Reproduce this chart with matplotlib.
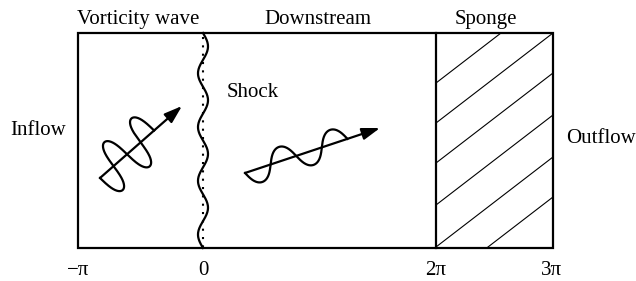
import numpy as np
import matplotlib.pyplot as plt
from matplotlib.patches import Rectangle

plt.rcParams['font.family'] = ['Liberation Serif', 'DejaVu Serif']

# the sketch is laid out in pixel-like units, y pointing down
box_x = [78, 553]
box_y = [33, 248]
sponge_x = 436
shock_x = 203

tick_pos = [78, 203, 436, 552]
tick_labels = ['\u2212\u03c0', '0', '2\u03c0', '3\u03c0']

region_labels = ['Vorticity wave', 'Downstream', 'Sponge']
region_x = [138, 318, 486]

side_labels = ['Inflow', 'Shock', 'Outflow']
side_x = [10, 227, 566]
side_y = [135, 97, 143]

# sponge hatching: where each line meets the right wall, and its drop across the layer
hatch_right_y = [-7, 33, 73, 115, 157, 197]
hatch_drop = 90

# rippled shock front
shock_amp = 5
shock_periods = 4

# wave packets travelling along arrows
wave_start = [(100, 178), (245, 173)]
wave_tip = [(182, 106), (380, 128)]
wave_amp = [24, 14]
wave_len = [72, 108]
wave_halves = [4, 4]
wave_round = [0.33, 0.12]   # squeezes the crossings so the lobes look rounder

fig = plt.figure(figsize=(6.36, 2.81), dpi=100)
ax = fig.add_axes([0, 0, 1, 1])
ax.set_xlim(0, 636)
ax.set_ylim(281, 0)
ax.axis('off')

# computational box
box = Rectangle((box_x[0], box_y[0]), box_x[1] - box_x[0], box_y[1] - box_y[0],
                fill=False, lw=1.6, color='k', joinstyle='miter')
ax.add_patch(box)
ax.plot([sponge_x, sponge_x], box_y, color='k', lw=1.6)

# hatching in the sponge layer, clipped to the box
for yr in hatch_right_y:
    ln, = ax.plot([sponge_x, box_x[1]], [yr + hatch_drop, yr], color='k', lw=0.8)
    ln.set_clip_path(box)

# shock: straight mean position dotted, rippled front solid
ys = np.linspace(box_y[0], box_y[1], 400)
xs = shock_x + shock_amp * np.sin(2 * np.pi * shock_periods * (ys - box_y[0]) / (box_y[1] - box_y[0]))
ax.plot(xs, ys, color='k', lw=1.6)
ax.plot([shock_x, shock_x], [box_y[0] + 4, box_y[1]], color='k', lw=1.5, ls=(0, (1, 3)))

# wave packets
for st, tp, amp, L, nh, rnd in zip(wave_start, wave_tip, wave_amp, wave_len,
                                   wave_halves, wave_round):
    st = np.array(st, float)
    tp = np.array(tp, float)
    t = (tp - st) / np.hypot(*(tp - st))
    n = np.array([-t[1], t[0]])
    k = nh * np.pi / L
    phi = np.linspace(0, nh * np.pi, 400)
    along = phi / k - rnd / k * np.sin(2 * phi)
    pts = st + np.outer(along, t) + np.outer(amp * np.sin(phi), n)
    ax.plot(pts[:, 0], pts[:, 1], color='k', lw=1.6)
    ax.annotate('', xy=tp, xytext=st,
                arrowprops=dict(arrowstyle='-|>,head_length=0.9,head_width=0.3',
                                color='k', lw=1.6, shrinkA=0, shrinkB=0,
                                mutation_scale=12))

# labels
for lab, x in zip(region_labels, region_x):
    ax.text(x, 24, lab, ha='center', va='baseline', fontsize=15)
for lab, x, y in zip(side_labels, side_x, side_y):
    ax.text(x, y, lab, ha='left', va='baseline', fontsize=15)
for lab, x in zip(tick_labels, tick_pos):
    ax.text(x, 275, lab, ha='center', va='baseline', fontsize=15)

fig.savefig('out.png', dpi=100)
